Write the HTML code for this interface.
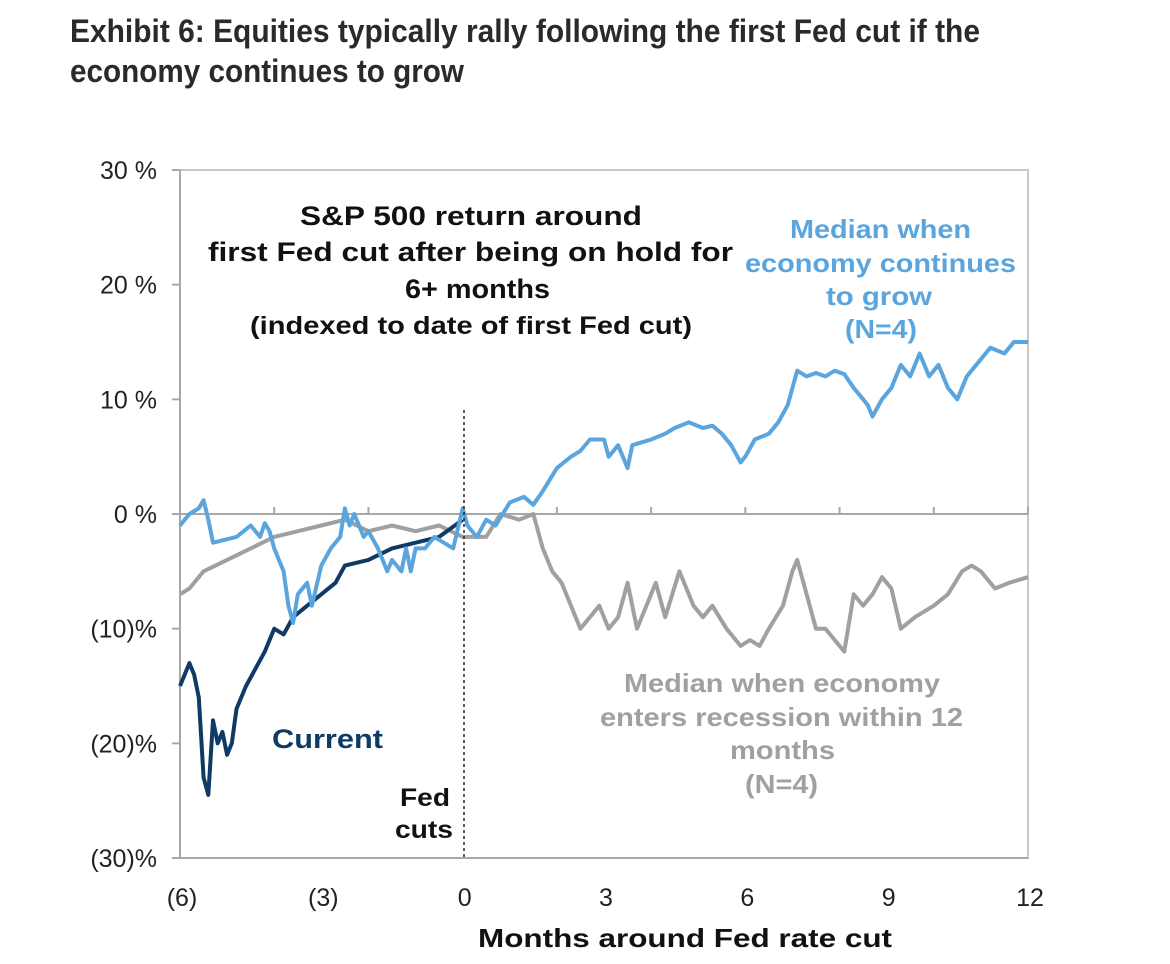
<!DOCTYPE html>
<html><head><meta charset="utf-8"><style>
body{margin:0;background:#fff;width:1170px;height:964px;overflow:hidden}
svg{display:block}
text{font-family:"Liberation Sans",sans-serif}
</style></head><body>
<svg id="chart" width="1170" height="964" viewBox="0 0 1170 964">
<text x="70" y="42" font-size="32" font-weight="bold" fill="#2a2a2a" textLength="910" lengthAdjust="spacingAndGlyphs">Exhibit 6: Equities typically rally following the first Fed cut if the</text>
<text x="70" y="82" font-size="32" font-weight="bold" fill="#2a2a2a" textLength="394" lengthAdjust="spacingAndGlyphs">economy continues to grow</text>
<rect x="180" y="170" width="848" height="688" fill="none" stroke="#c8c8c8" stroke-width="2"/>
<g id="axes"></g>
<g id="series"></g>
<line x1="464" y1="410" x2="464" y2="858" stroke="#222" stroke-width="1.5" stroke-dasharray="3,3"/>
<g font-weight="bold" font-size="27" fill="#111">
<text x="300" y="225" textLength="342" lengthAdjust="spacingAndGlyphs">S&amp;P 500 return around</text>
<text x="208" y="261" textLength="525" lengthAdjust="spacingAndGlyphs">first Fed cut after being on hold for</text>
<text x="405" y="298" textLength="145" lengthAdjust="spacingAndGlyphs">6+ months</text>
<text x="250" y="334" font-size="25" textLength="442" lengthAdjust="spacingAndGlyphs">(indexed to date of first Fed cut)</text>
</g>
<g font-weight="bold" font-size="26" fill="#5aa5de">
<text x="790" y="238" textLength="181" lengthAdjust="spacingAndGlyphs">Median when</text>
<text x="745" y="272" textLength="271" lengthAdjust="spacingAndGlyphs">economy continues</text>
<text x="826" y="305" textLength="106" lengthAdjust="spacingAndGlyphs">to grow</text>
<text x="845" y="338" textLength="72" lengthAdjust="spacingAndGlyphs">(N=4)</text>
</g>
<g font-weight="bold" font-size="26" fill="#a0a0a0">
<text x="624" y="692" textLength="316" lengthAdjust="spacingAndGlyphs">Median when economy</text>
<text x="600" y="726" textLength="363" lengthAdjust="spacingAndGlyphs">enters recession within 12</text>
<text x="730" y="759" textLength="105" lengthAdjust="spacingAndGlyphs">months</text>
<text x="745" y="793" textLength="73" lengthAdjust="spacingAndGlyphs">(N=4)</text>
</g>
<text x="272" y="748" font-weight="bold" font-size="27" fill="#0f3a66" textLength="111" lengthAdjust="spacingAndGlyphs">Current</text>
<g font-weight="bold" font-size="25" fill="#111">
<text x="400" y="806" textLength="50" lengthAdjust="spacingAndGlyphs">Fed</text>
<text x="395" y="838" textLength="58" lengthAdjust="spacingAndGlyphs">cuts</text>
</g>
<text x="478" y="947" font-weight="bold" font-size="26" fill="#111" textLength="414" lengthAdjust="spacingAndGlyphs">Months around Fed rate cut</text>
</svg>
<script>
const xTicks=[-6,-3,0,3,6,9,12];
const xTickLabels=["(6)","(3)","0","3","6","9","12"];
const yTicks=[30,20,10,0,-10,-20,-30];
const yTickLabels=["30 %","20 %","10 %","0 %","(10)%","(20)%","(30)%"];
const growX=[-6,-5.8,-5.6,-5.5,-5.4,-5.3,-5.0,-4.8,-4.5,-4.3,-4.2,-4.1,-4.0,-3.8,-3.7,-3.6,-3.5,-3.3,-3.2,-3.0,-2.8,-2.6,-2.5,-2.4,-2.3,-2.1,-2.0,-1.8,-1.6,-1.5,-1.3,-1.2,-1.1,-1.0,-0.8,-0.6,-0.4,-0.2,0,0.1,0.3,0.5,0.7,1.0,1.3,1.5,1.7,2.0,2.3,2.5,2.7,3.0,3.1,3.3,3.5,3.6,4.0,4.3,4.5,4.8,5.1,5.3,5.5,5.7,5.9,6.0,6.2,6.5,6.7,6.9,7.1,7.3,7.5,7.7,7.9,8.1,8.3,8.5,8.6,8.7,8.9,9.1,9.3,9.5,9.7,9.9,10.1,10.3,10.5,10.7,11.0,11.2,11.5,11.7,12];
const growY=[-1,0,0.5,1.2,-0.5,-2.5,-2.2,-2,-1,-2,-0.8,-1.5,-3,-5,-8,-9.5,-7,-6,-8,-4.5,-3,-2,0.5,-1,0,-2,-1.5,-3,-5,-4,-5,-3,-5,-3,-3,-2,-2.5,-3,0.5,-1,-2,-0.5,-1,1,1.5,0.8,2,4,5,5.5,6.5,6.5,5,6,4,6,6.5,7,7.5,8,7.5,7.7,7,6,4.5,5,6.5,7,8,9.5,12.5,12,12.3,12,12.5,12.2,11,10,9.5,8.5,10,11,13,12,14,12,13,11,10,12,13.5,14.5,14,15,15];
const recX=[-6,-5.8,-5.5,-5,-4.5,-4,-3.5,-3,-2.5,-2,-1.5,-1,-0.5,0,0.5,0.8,1.2,1.5,1.7,1.9,2.1,2.3,2.5,2.7,2.9,3.1,3.3,3.5,3.7,3.9,4.1,4.3,4.6,4.9,5.1,5.3,5.6,5.9,6.1,6.3,6.5,6.8,7.0,7.1,7.3,7.5,7.7,7.9,8.1,8.3,8.5,8.7,8.9,9.1,9.3,9.6,10,10.3,10.6,10.8,11,11.3,11.6,12];
const recY=[-7,-6.5,-5,-4,-3,-2,-1.5,-1,-0.5,-1.5,-1,-1.5,-1,-2,-2,0,-0.5,0,-3,-5,-6,-8,-10,-9,-8,-10,-9,-6,-10,-8,-6,-9,-5,-8,-9,-8,-10,-11.5,-11,-11.5,-10,-8,-5,-4,-7,-10,-10,-11,-12,-7,-8,-7,-5.5,-6.5,-10,-9,-8,-7,-5,-4.5,-5,-6.5,-6,-5.5];
const curX=[-6,-5.8,-5.7,-5.6,-5.5,-5.4,-5.3,-5.2,-5.1,-5.0,-4.9,-4.8,-4.6,-4.4,-4.2,-4.0,-3.8,-3.6,-3.3,-3.0,-2.7,-2.5,-2.0,-1.5,-1.0,-0.5,0];
const curY=[-15,-13,-14,-16,-23,-24.5,-18,-20,-19,-21,-20,-17,-15,-13.5,-12,-10,-10.5,-9,-8,-7,-6,-4.5,-4,-3,-2.5,-2,-0.5];
const xS=m=>180+(m+6)*(848/18);
const yS=v=>514-v*(344/30);
const NS="http://www.w3.org/2000/svg";
const axes=document.getElementById('axes'),series=document.getElementById('series');
function mk(tag,attrs,parent){const e=document.createElementNS(NS,tag);for(const k in attrs)e.setAttribute(k,attrs[k]);parent.appendChild(e);return e;}
let z=mk('line',{x1:180,x2:1028,y1:yS(0),y2:yS(0),stroke:'#a8a8a8','stroke-width':2},axes);


let ya=mk('line',{x1:180,x2:180,y1:170,y2:858,stroke:'#a8a8a8','stroke-width':2},axes);


let xa=mk('line',{x1:180,x2:1028,y1:858,y2:858,stroke:'#a8a8a8','stroke-width':2},axes);


yTicks.forEach((v,i)=>{
  const t=mk('line',{x1:172,x2:180,y1:yS(v),y2:yS(v),stroke:'#a8a8a8','stroke-width':2},axes);
  
  
  const l=mk('text',{x:157,y:yS(v)+9,'text-anchor':'end','font-size':25,fill:'#222'},axes);
  l.textContent=yTickLabels[i];
  
  
});
for(let m=-6;m<=12;m+=2){
  const t=mk('line',{x1:xS(m),x2:xS(m),y1:yS(0),y2:yS(0)-7,stroke:'#a8a8a8','stroke-width':2},axes);
  
  
}
xTicks.forEach((m,i)=>{
  const l=mk('text',{x:xS(m)+2,y:906,'text-anchor':'middle','font-size':25,fill:'#222'},axes);
  l.textContent=xTickLabels[i];
  
  
});
function line(xs,ys,color,name){
  const d=xs.map((x,i)=>(i?'L':'M')+xS(x).toFixed(1)+','+yS(ys[i]).toFixed(1)).join(' ');
  const p=mk('path',{d:d,fill:'none',stroke:color,'stroke-width':4,'stroke-linejoin':'round'},series);
  
  
}
line(recX,recY,'#a0a0a0','recession-median-line');
line(curX,curY,'#0f3a66','current-line');
line(growX,growY,'#5aa5de','grow-median-line');
</script>
</body></html>
